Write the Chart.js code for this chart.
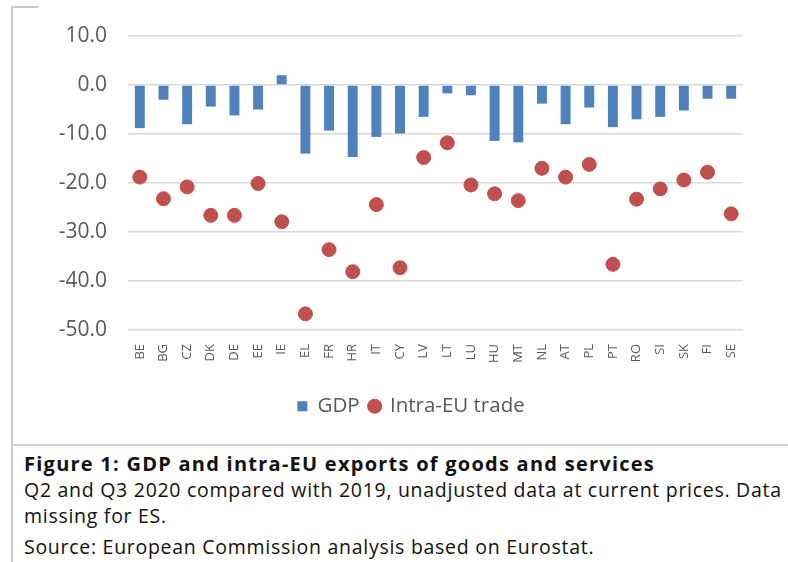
<!DOCTYPE html>
<html>
<head>
<meta charset="utf-8">
<script src="https://cdn.jsdelivr.net/npm/chart.js@4.4.1/dist/chart.umd.min.js"></script>
<style>
  body { margin: 0; background: #fff; width: 788px; height: 562px; overflow: hidden; position: relative; font-family: "Open Sans", sans-serif; }
  .frame-left { position: absolute; left: 11px; top: 6px; width: 2px; height: 556px; background: #c8c8c8; }
  .frame-top { position: absolute; left: 11px; top: 6px; width: 27px; height: 2px; background: #c8c8c8; }
  .frame-bottom { position: absolute; left: 11px; top: 444px; width: 777px; height: 2px; background: #d0d0d0; }
  #box { position: absolute; left: 12px; top: 7px; width: 776px; height: 438px; }
  .cap { position: absolute; left: 24px; white-space: nowrap; color: #111; font-size: 19.5px; letter-spacing: 0.72px; line-height: 26px; }
  .cap.bold { font-weight: bold; font-size: 20px; letter-spacing: 1.25px; }
</style>
</head>
<body>
<div class="frame-left"></div>
<div class="frame-top"></div>
<div class="frame-bottom"></div>
<div id="box"><canvas id="chart"></canvas></div>
<div class="cap bold" style="top:451px">Figure 1: GDP and intra-EU exports of goods and services</div>
<div class="cap" style="top:477px">Q2 and Q3 2020 compared with 2019, unadjusted data at current prices. Data</div>
<div class="cap" style="top:503px">missing for ES.</div>
<div class="cap" style="top:534px">Source: European Commission analysis based on Eurostat.</div>
<script>
// data
let countries = ['BE', 'BG', 'CZ', 'DK', 'DE', 'EE', 'IE', 'EL', 'FR', 'HR', 'IT', 'CY', 'LV', 'LT',
  'LU', 'HU', 'MT', 'NL', 'AT', 'PL', 'PT', 'RO', 'SI', 'SK', 'FI', 'SE']
let gdp = [-8.8, -3.0, -8.0, -4.4, -6.2, -5.0, 2.0, -14.0, -9.3, -14.7, -10.6, -9.9, -6.5, -1.7,
  -2.1, -11.4, -11.7, -3.8, -8.0, -4.6, -8.6, -7.0, -6.5, -5.2, -2.8, -2.8]
let intra_eu_trade = [-18.8, -23.2, -20.8, -26.6, -26.6, -20.1, -27.9, -46.7, -33.6, -38.1, -24.4, -37.3, -14.8, -11.8,
  -20.4, -22.2, -23.6, -17.0, -18.8, -16.2, -36.6, -23.3, -21.2, -19.4, -17.8, -26.3]
let y_min = -50
let y_max = 10
let y_step = 10

const grey = '#595959'
const font = 'Open Sans'

let ctx = document.querySelector('#chart')

let chart = new Chart(ctx, {
  data: {
    labels: countries,
    datasets: [
      {
        type: 'bar',
        label: 'GDP',
        data: gdp,
        backgroundColor: '#4f81bd',
        borderWidth: 0,
        barPercentage: 0.42,
        categoryPercentage: 1,
        pointStyle: 'rect'
      },
      {
        type: 'line',
        label: 'Intra-EU trade',
        data: intra_eu_trade,
        showLine: false,
        pointRadius: 7,
        pointHoverRadius: 7,
        pointBackgroundColor: '#c0504d',
        pointBorderColor: '#c0504d',
        backgroundColor: '#c0504d',
        borderColor: '#c0504d',
        pointStyle: 'circle'
      }
    ]
  },
  options: {
    responsive: true,
    maintainAspectRatio: false,
    animation: false,
    layout: {
      padding: { left: 22, right: 0, top: 29, bottom: 18.5 }
    },
    plugins: {
      tooltip: { enabled: false },
      legend: {
        position: 'bottom',
        labels: {
          usePointStyle: true,
          boxWidth: 10,
          boxHeight: 10,
          padding: 10,
          color: grey,
          font: { family: font, size: 20.5 }
        }
      }
    },
    scales: {
      x: {
        grid: { display: false, drawTicks: false },
        border: { display: false },
        ticks: {
          minRotation: 90,
          maxRotation: 90,
          padding: 14,
          color: grey,
          font: { family: font, size: 13 }
        },
        afterFit: (scale) => { scale.height = 56 }
      },
      y: {
        min: y_min,
        max: y_max,
        grid: { color: '#d9d9d9', lineWidth: 1.5, drawTicks: false },
        border: { display: false },
        ticks: {
          stepSize: y_step,
          padding: 21,
          color: grey,
          font: { family: font, size: 21 },
          callback: (v) => v.toFixed(1)
        },
        afterFit: (scale) => {
          scale.width = 94
          // the label gap is horizontal only, don't let it push the plot down
          scale.paddingTop = 12
          scale.paddingBottom = 12
        }
      },
      // empty right axis, keeps the plot off the right edge while the legend stays centred
      yRight: {
        type: 'linear',
        position: 'right',
        grid: { display: false, drawTicks: false },
        border: { display: false },
        ticks: { display: false },
        afterFit: (scale) => { scale.width = 45 }
      }
    }
  }
})
</script>
</body>
</html>
